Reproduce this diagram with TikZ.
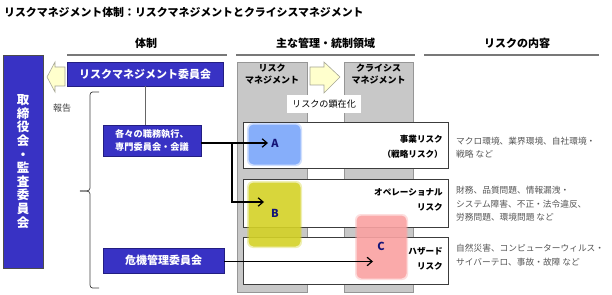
\documentclass[tikz,border=0pt]{standalone}
\usepackage{fontspec}
\setmainfont{Noto Sans CJK JP}
\usetikzlibrary{arrows.meta}
\definecolor{bluebox}{RGB}{56,50,196}
\definecolor{blueedge}{RGB}{35,30,130}
\definecolor{ylw}{RGB}{255,255,205}
\definecolor{ylwedge}{RGB}{165,165,150}
\definecolor{colgray}{RGB}{200,200,200}
\definecolor{coledge}{RGB}{150,150,150}
\definecolor{hdrline}{RGB}{120,120,120}
\definecolor{boxA}{RGB}{122,166,250}
\definecolor{boxB}{RGB}{212,210,38}
\definecolor{boxC}{RGB}{250,162,162}
\definecolor{navy}{RGB}{20,20,120}
\definecolor{txtgray}{RGB}{85,85,85}
\definecolor{rowedge}{RGB}{60,60,60}
\begin{document}
\begin{tikzpicture}[x=1pt,y=-1pt,
  bluenode/.style={draw=blueedge, line width=0.6pt, fill=bluebox, text=white, inner sep=0pt, font=\bfseries\fontsize{11}{13}\selectfont},
  yarrow/.style={draw=ylwedge, fill=ylw, line width=0.6pt},
  hdr/.style={font=\bfseries\fontsize{11}{13}\selectfont, inner sep=0pt},
  hdrln/.style={draw=hdrline, line width=1.4pt},
  colbox/.style={draw=coledge, fill=colgray, line width=0.6pt, inner sep=0pt},
  rowbox/.style={draw=rowedge, fill=white, line width=0.9pt, inner sep=0pt, minimum width=205pt},
  riskshape/.style={rounded corners=5pt, opacity=0.85},
  softedge/.style={rounded corners=6pt, opacity=0.35},
  letter/.style={text=navy, font=\bfseries\fontsize{11}{12}\selectfont, inner sep=1pt},
  conn/.style={draw=black, line width=1.2pt, -{Straight Barb[length=5pt,width=8.5pt]}},
  rowlabel/.style={anchor=east, align=right, inner sep=0pt, font=\bfseries\fontsize{8.6}{15}\selectfont},
  desc/.style={anchor=west, align=left, inner sep=0pt, text=txtgray, font=\fontsize{8.7}{13.6}\selectfont},
  brk/.style={draw=black!75, line width=0.7pt}
]
\useasboundingbox (0,0) rectangle (612,294);

% title
\node[anchor=west, inner sep=0pt, font=\bfseries\fontsize{10.9}{12}\selectfont] (title) at (4,12.5)
  {リスクマネジメント体制：リスクマネジメントとクライシスマネジメント};

% column headers
\node[hdr] (h1) at (146,43) {体制};
\node[hdr] (h2) at (325.5,43) {主な管理・統制領域};
\node[hdr] (h3) at (517,43) {リスクの内容};
\draw[hdrln] (67,55) -- (227,55);
\draw[hdrln] (236,55) -- (415,55);
\draw[hdrln] (424,55) -- (599,55);

% board box
\node[bluenode, draw=black!70, minimum width=40pt, minimum height=213pt, align=center,
  font=\bfseries\fontsize{12.5}{13.6}\selectfont] (board) at (23,161.5)
  {取\\締\\役\\会\\・\\監\\査\\委\\員\\会};

% left yellow arrow
\draw[yarrow] (65,67) -- (55,67) -- (55,62) -- (47,77) -- (55,92) -- (55,86) -- (65,86) -- cycle;

% committees
\node[bluenode, minimum width=156pt, minimum height=24pt] (rmc) at (145,74) {リスクマネジメント委員会};
\node[bluenode, minimum width=98pt, minimum height=31pt, align=center,
  font=\bfseries\fontsize{9.2}{13.5}\selectfont] (shokumu) at (152,140.5) {各々の職務執行、\\専門委員会・会議};
\node[bluenode, minimum width=121pt, minimum height=25pt] (kiki) at (163.5,260.5) {危機管理委員会};
\draw[draw=black!60, line width=0.8pt] (rmc.south) -- (rmc.south |- shokumu.north);

% report label and bracket
\node[inner sep=0pt, text=black!75, font=\fontsize{9}{11}\selectfont] (houkoku) at (62,108) {報告};
\draw[brk] (99,92) -- (92.5,92) to[out=180,in=90] (90,95) -- (90,188) to[out=-90,in=0] (80,191);
\draw[brk] (80,191) to[out=0,in=90] (90,194) -- (90,285) to[out=-90,in=180] (92.5,288) -- (99,288);

% gray columns
\node[colbox, minimum width=70pt, minimum height=230pt] (colRM) at (272,177) {};
\node[colbox, minimum width=69pt, minimum height=230pt] (colCM) at (378.5,177) {};
\node[align=center, inner sep=0pt, font=\bfseries\fontsize{9}{11.5}\selectfont] (tRM) at (272,74) {リスク\\マネジメント};
\node[align=center, inner sep=0pt, font=\bfseries\fontsize{9}{11.5}\selectfont] (tCM) at (378.5,74) {クライシス\\マネジメント};
\draw[yarrow] (310,67) -- (324,67) -- (324,62) -- (340,77) -- (324,93) -- (324,85) -- (310,85) -- cycle;
\node[fill=white, minimum width=74pt, minimum height=18pt, inner sep=0pt, font=\fontsize{9.1}{11}\selectfont] (kenzai) at (324,104) {リスクの顕在化};

% rows
\node[rowbox, minimum height=46pt] (row1) at (345.5,145) {};
\node[rowbox, minimum height=48pt] (row2) at (345.5,203) {};
\node[rowbox, minimum height=47pt] (row3) at (345.5,260.5) {};

% colored risk shapes (soft halo + body)
\fill[softedge, fill=boxA] (247,123) rectangle (302,166);
\fill[softedge, fill=boxB] (247,181) rectangle (302,248);
\fill[softedge, fill=boxC] (355,214) rectangle (408,280);
\fill[riskshape, fill=boxA] (248.5,124.5) rectangle (300.5,164.5);
\fill[riskshape, fill=boxB] (248.5,182.5) rectangle (300.5,246.5);
\fill[riskshape, fill=boxC] (356.5,215.5) rectangle (406.5,278.5);
\node[letter] (lA) at (275,143) {A};
\node[letter] (lB) at (275,213) {B};
\node[letter] (lC) at (381,246) {C};

% row labels
\node[rowlabel] (r1) at (443,146.5) {事業リスク\\（戦略リスク）};
\node[rowlabel] (r2) at (443,199.5) {オペレーショナル\\リスク};
\node[rowlabel] (r3) at (443,258.5) {ハザード\\リスク};

% descriptions
\node[desc] (d1) at (456,147.5) {マクロ環境、業界環境、自社環境・\\戦略 など};
\node[desc] (d2) at (456,204) {財務、品質問題、情報漏洩・\\システム障害、不正・法令違反、\\労務問題、環境問題 など};
\node[desc] (d3) at (456,255) {自然災害、コンピューターウィルス・\\サイバーテロ、事故・故障 など};

% connectors
\coordinate (j1) at (232,143);
\coordinate (tipA) at (268,143);
\coordinate (tipB) at (264,202);
\coordinate (tipC) at (373,261.5);
\draw[conn] (shokumu.east |- j1) -- (tipA);
\draw[conn] (j1) -- (j1 |- tipB) -- (tipB);
\draw[conn] (kiki.east |- tipC) -- (tipC);
\end{tikzpicture}
\end{document}
